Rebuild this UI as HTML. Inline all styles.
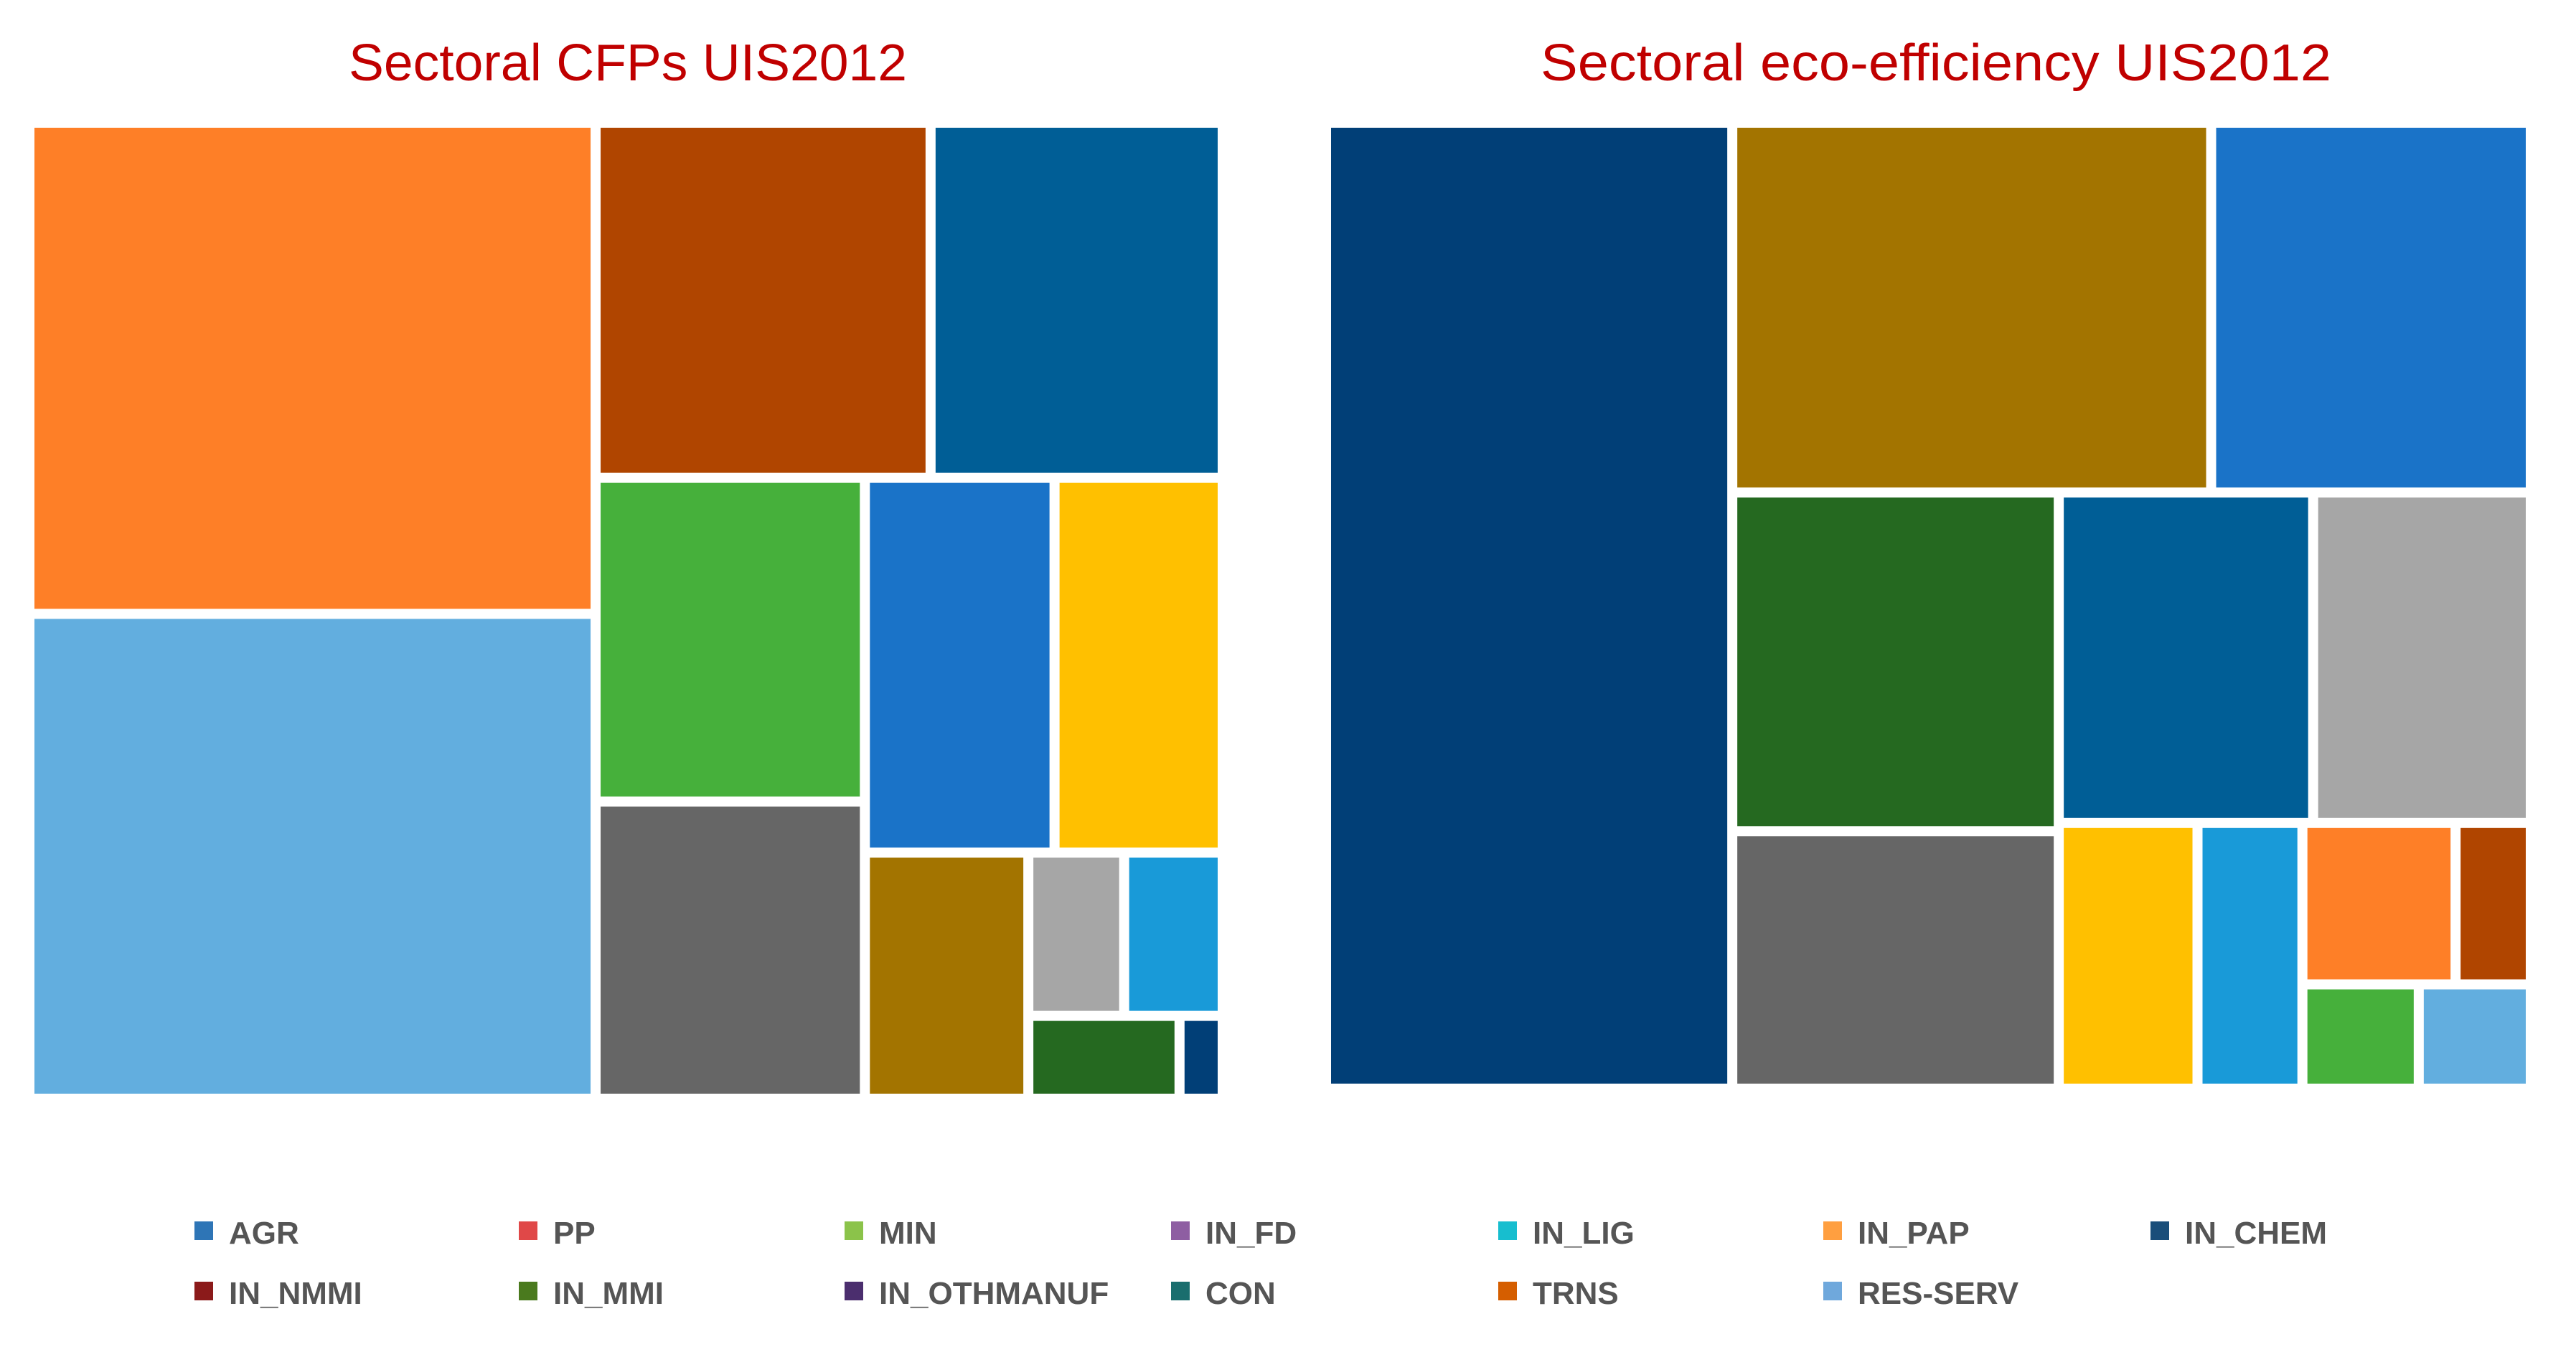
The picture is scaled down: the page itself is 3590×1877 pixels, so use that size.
<!DOCTYPE html>
<html><head><meta charset="utf-8"><style>
html,body{margin:0;padding:0;background:#fff;}
svg{display:block;}
</style></head><body>
<svg id="chart" width="3590" height="1877" viewBox="0 0 3590 1877" xmlns="http://www.w3.org/2000/svg">
<text x="875" y="112" text-anchor="middle" font-family="Liberation Sans, sans-serif" font-size="72" fill="#c00000" textLength="778" lengthAdjust="spacingAndGlyphs">Sectoral CFPs UIS2012</text>
<text x="2698" y="112" text-anchor="middle" font-family="Liberation Sans, sans-serif" font-size="72" fill="#c00000" textLength="1102" lengthAdjust="spacingAndGlyphs">Sectoral eco-efficiency UIS2012</text>
<g id="left"></g>
<g id="right"></g>
<g id="legend"></g>
</svg>
<script>
// Left treemap (Sectoral CFPs) leaf values
const leftNames = ['orange','lightblue','brown','teal','green','gray','blue','yellow','olive','lightgray','sky','darkgreen','navy'];
const leftValues = [622,614,266,232,195,179,159,141,90,35,36,28,8];
const leftColors = ['#fe7f27','#62aedf','#b04500','#005e96','#46b03b','#666666','#1a73c8','#ffc000','#a37400','#a6a6a6','#199ad8','#256920','#013f77'];
// Right treemap (Sectoral eco-efficiency) leaf values
const rightNames = ['navy','olive','blue','darkgreen','gray','teal','lightgray','yellow','sky','orange','brown','green','lightblue'];
const rightValues = [873,394,263,246,187,187,160,82,62,55,27,27,26];
const rightColors = ['#013f77','#a37400','#1a73c8','#256920','#666666','#005e96','#a6a6a6','#ffc000','#199ad8','#fe7f27','#b04500','#46b03b','#62aedf'];
// Legend
const legendLabels = ['AGR','PP','MIN','IN_FD','IN_LIG','IN_PAP','IN_CHEM','IN_NMMI','IN_MMI','IN_OTHMANUF','CON','TRNS','RES-SERV'];
const legendColors = ['#2e75b6','#e04848','#8bc34a','#8e5ea2','#17becf','#ff9f40','#1a4e7a','#8b1a1a','#4a7a1e','#4b2e6e','#1a6e6e','#d55e00','#6fa8dc'];

// layout trees (split direction + leaf indices)
const leftTree = ['h',[['v',[0,1]],['v',[['h',[2,3]],['h',[['v',[4,5]],['v',[['h',[6,7]],['h',[8,['v',[['h',[9,10]],['h',[11,12]]]]]]]]]]]]]];
const rightTree = ['h',[0,['v',[['h',[1,2]],['h',[['v',[3,4]],['v',[['h',[5,6]],['h',[7,8,['v',[['h',[9,10]],['h',[11,12]]]]]]]]]]]]]];

const NS='http://www.w3.org/2000/svg';
function sum(node,vals){return typeof node==='number'?vals[node]:node[1].reduce((a,c)=>a+sum(c,vals),0);}
function layout(node,vals,x,y,w,h,out){
  if(typeof node==='number'){out.push([node,x,y,w,h]);return;}
  const tot=sum(node,vals);let off=0;
  node[1].forEach(c=>{
    const f=sum(c,vals)/tot;
    if(node[0]==='h'){layout(c,vals,x+off,y,w*f,h,out);off+=w*f;}
    else{layout(c,vals,x,y+off,w,h*f,out);off+=h*f;}
  });
}
function draw(gid,tree,vals,cols,names,box,side){
  const g=document.getElementById(gid);const out=[];
  layout(tree,vals,box[0],box[1],box[2],box[3],out);
  const gap=7;
  out.forEach(([i,x,y,w,h])=>{
    const r=document.createElementNS(NS,'rect');
    r.setAttribute('x',x+gap);r.setAttribute('y',y+gap);
    r.setAttribute('width',Math.max(0,w-2*gap));r.setAttribute('height',Math.max(0,h-2*gap));
    r.setAttribute('fill',cols[i]);
    
    
    g.appendChild(r);
  });
}
draw('left',leftTree,leftValues,leftColors,leftNames,[41,171,1663,1360],'left');
draw('right',rightTree,rightValues,rightColors,rightNames,[1848,171,1679,1346],'right');

const lg=document.getElementById('legend');
const colX=[271,723,1177,1632,2088,2541,2997];
const rowY=[1733,1817];
legendLabels.forEach((lab,i)=>{
  const cx=colX[i%7], cy=rowY[Math.floor(i/7)];
  const gi=document.createElementNS(NS,'g');
  
  
  const m=document.createElementNS(NS,'rect');
  m.setAttribute('x',cx);m.setAttribute('y',cy-31);m.setAttribute('width',26);m.setAttribute('height',26);
  m.setAttribute('fill',legendColors[i]);
  
  
  const t=document.createElementNS(NS,'text');
  t.setAttribute('x',cx+48);t.setAttribute('y',cy);
  t.setAttribute('font-family','Liberation Sans, sans-serif');t.setAttribute('font-weight','bold');
  t.setAttribute('font-size','44');t.setAttribute('fill','#555555');
  t.textContent=lab;
  
  
  gi.appendChild(m);gi.appendChild(t);lg.appendChild(gi);
});
</script>
</body></html>
